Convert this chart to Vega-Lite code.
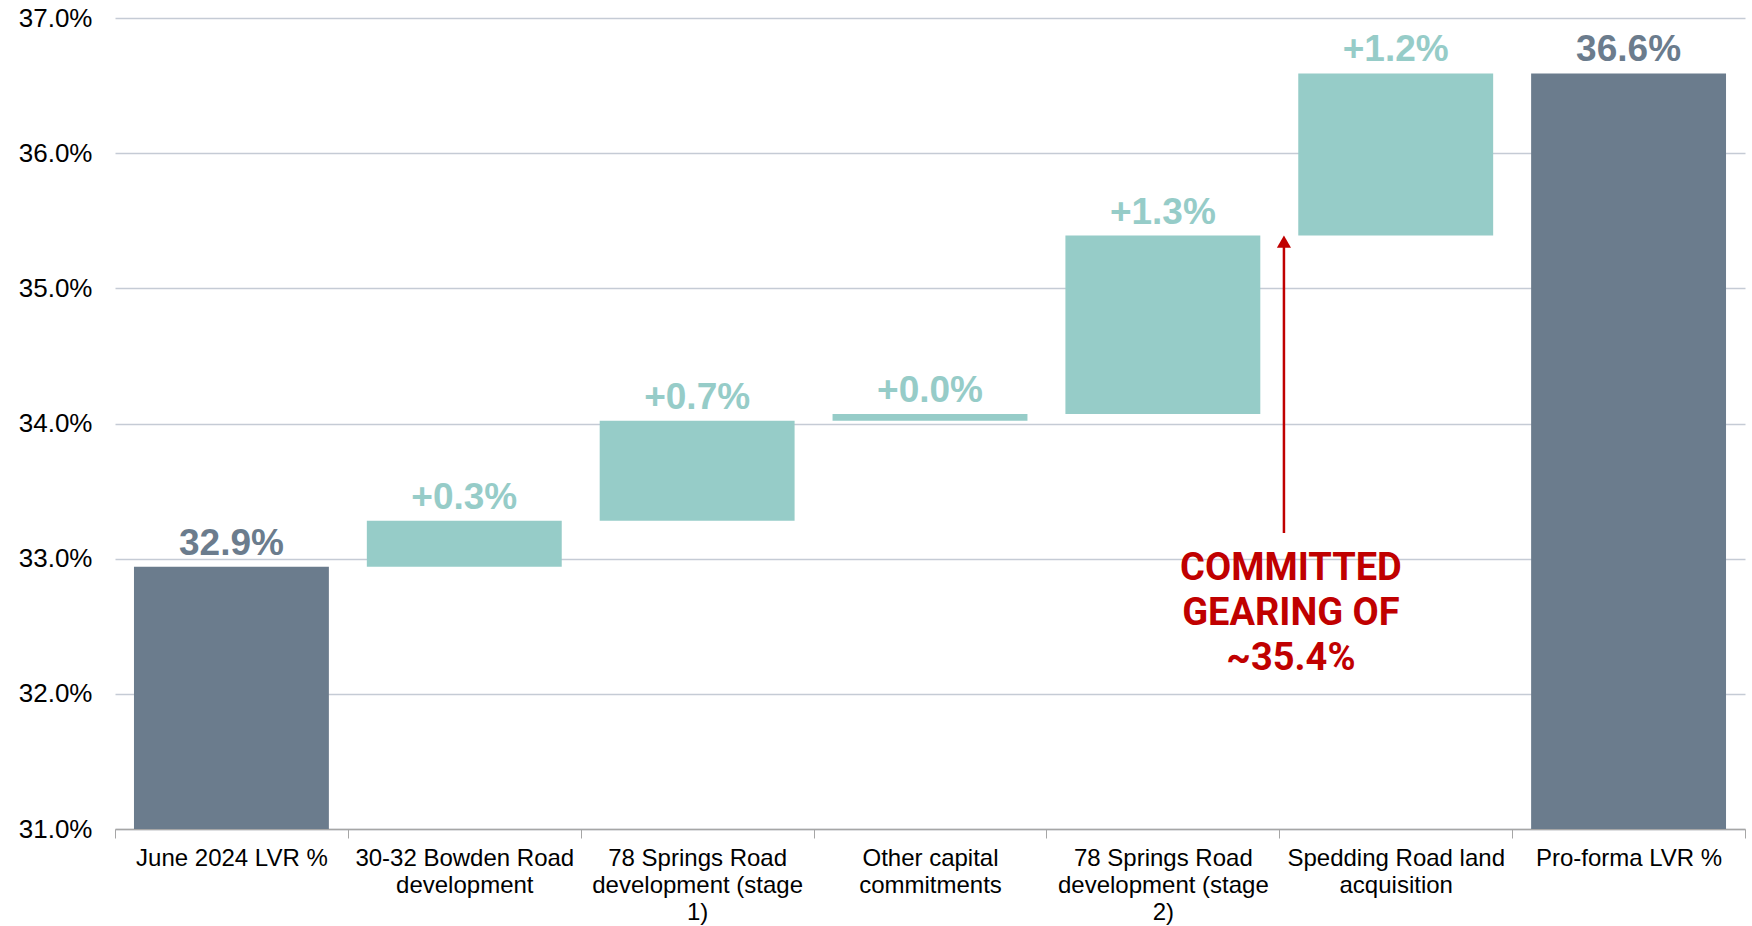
{
  "$schema": "https://vega.github.io/schema/vega-lite/v6.json",
  "width": 1630,
  "height": 811,
  "autosize": {"type": "none"},
  "padding": {"left": 115, "top": 18, "right": 7, "bottom": 97},
  "background": "white",
  "config": {"view": {"stroke": null}, "font": "Liberation Sans"},
  "datasets": {
    "bars": [
      {"step": "June 2024 LVR %", "start": 0, "end": 32.94, "label": "32.9%", "kind": "total"},
      {"step": "30-32 Bowden Road development", "start": 32.94, "end": 33.28, "label": "+0.3%", "kind": "change"},
      {"step": "78 Springs Road development (stage 1)", "start": 33.28, "end": 34.02, "label": "+0.7%", "kind": "change"},
      {"step": "Other capital commitments", "start": 34.02, "end": 34.07, "label": "+0.0%", "kind": "change"},
      {"step": "78 Springs Road development (stage 2)", "start": 34.07, "end": 35.39, "label": "+1.3%", "kind": "change"},
      {"step": "Spedding Road land acquisition", "start": 35.39, "end": 36.59, "label": "+1.2%", "kind": "change"},
      {"step": "Pro-forma LVR %", "start": 0, "end": 36.59, "label": "36.6%", "kind": "total"}
    ],
    "note": [
      {"step": "Spedding Road land acquisition", "from": 33.19, "to": 35.33, "head": 35.345, "texty": 32.84, "text": "COMMITTED\nGEARING OF\n~35.4%"}
    ]
  },
  "encoding": {
    "x": {
      "field": "step",
      "type": "nominal",
      "sort": null,
      "scale": {"paddingInner": 0, "paddingOuter": 0},
      "axis": {
        "title": null,
        "labelAngle": 0,
        "labelFontSize": 24,
        "labelColor": "#000000",
        "labelLineHeight": 27,
        "labelPadding": 8,
        "labelLimit": 0,
        "tickBand": "extent",
        "tickSize": 9,
        "tickColor": "#A6A6A6",
        "domainColor": "#A6A6A6",
        "domainWidth": 1.5,
        "labelExpr": "datum.label == '30-32 Bowden Road development' ? ['30-32 Bowden Road', 'development'] : datum.label == '78 Springs Road development (stage 1)' ? ['78 Springs Road', 'development (stage', '1)'] : datum.label == 'Other capital commitments' ? ['Other capital', 'commitments'] : datum.label == '78 Springs Road development (stage 2)' ? ['78 Springs Road', 'development (stage', '2)'] : datum.label == 'Spedding Road land acquisition' ? ['Spedding Road land', 'acquisition'] : datum.label"
      }
    }
  },
  "layer": [
    {
      "data": {"name": "bars"},
      "mark": {"type": "bar", "clip": true, "width": {"band": 0.837}},
      "encoding": {
        "y": {
          "field": "start",
          "type": "quantitative",
          "scale": {"domain": [31, 37], "nice": false, "zero": false},
          "axis": {
            "title": null,
            "values": [31, 32, 33, 34, 35, 36, 37],
            "labelExpr": "format(datum.value, '.1f') + '%'",
            "labelFontSize": 26,
            "labelColor": "#000000",
            "labelPadding": 23,
            "ticks": false,
            "domain": false,
            "grid": true,
            "gridColor": "#C5CBD5",
            "gridWidth": 1.5
          }
        },
        "y2": {"field": "end"},
        "color": {
          "field": "kind",
          "type": "nominal",
          "scale": {"domain": ["total", "change"], "range": ["#6B7C8D", "#96CCC8"]},
          "legend": null
        }
      }
    },
    {
      "data": {"name": "bars"},
      "mark": {"type": "text", "fontSize": 37, "fontWeight": "bold", "baseline": "alphabetic", "dy": -12, "align": "center"},
      "encoding": {
        "y": {"field": "end", "type": "quantitative"},
        "text": {"field": "label"},
        "color": {"field": "kind", "type": "nominal", "legend": null}
      }
    },
    {
      "data": {"name": "note"},
      "mark": {"type": "rule", "color": "#C00000", "strokeWidth": 2.5},
      "encoding": {
        "x": {"field": "step", "type": "nominal", "bandPosition": 0.02},
        "y": {"field": "from", "type": "quantitative"},
        "y2": {"field": "to"}
      }
    },
    {
      "data": {"name": "note"},
      "mark": {"type": "point", "shape": "triangle-up", "filled": true, "color": "#C00000", "size": 200, "opacity": 1},
      "encoding": {
        "x": {"field": "step", "type": "nominal", "bandPosition": 0.02},
        "y": {"field": "head", "type": "quantitative"}
      }
    },
    {
      "data": {"name": "note"},
      "mark": {"type": "text", "font": "Roboto", "fontSize": 38, "fontWeight": "bold", "color": "#C00000", "align": "center", "baseline": "alphabetic", "lineHeight": 45, "lineBreak": "\n"},
      "encoding": {
        "x": {"field": "step", "type": "nominal", "bandPosition": 0.05},
        "y": {"field": "texty", "type": "quantitative"},
        "text": {"field": "text"}
      }
    }
  ]
}
